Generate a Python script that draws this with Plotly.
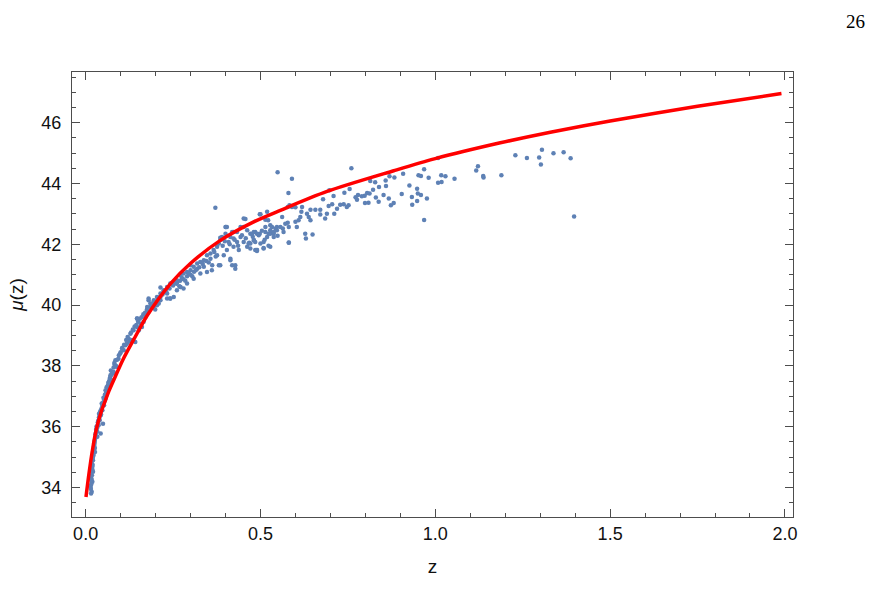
import plotly.graph_objects as go

# ---------------- data ----------------
# model curve mu(z)
curve_z = [0.001, 0.0096, 0.0192, 0.0306, 0.0459, 0.0566, 0.0668, 0.0852, 0.106, 0.14,
           0.1756, 0.2423, 0.2995, 0.3853, 0.4806, 0.557, 0.6905, 0.881, 1.0, 1.186,
           1.329, 1.5, 1.75, 1.99]
curve_mu = [33.69, 34.46, 35.21, 35.92, 36.54, 36.87, 37.18, 37.66, 38.19, 38.92,
            39.65, 40.70, 41.37, 42.13, 42.74, 43.12, 43.74, 44.42, 44.82, 45.34,
            45.69, 46.06, 46.54, 46.96]

# supernova data, low redshift
z_low = [0.0173, 0.0144, 0.0173, 0.0144, 0.0163, 0.0192, 0.0173, 0.0211, 0.0211, 0.0239,
         0.0258, 0.0287, 0.0306, 0.0335, 0.0363, 0.0401, 0.0430, 0.0478, 0.0525, 0.0573,
         0.0621, 0.0382, 0.0459, 0.0497, 0.0430, 0.0335, 0.0268, 0.0192, 0.0211,
         0.015, 0.016, 0.017, 0.018, 0.019, 0.020, 0.021, 0.022, 0.023, 0.024,
         0.025, 0.026, 0.027, 0.028, 0.030, 0.031, 0.032, 0.034, 0.036, 0.038,
         0.040, 0.042, 0.044, 0.046, 0.050, 0.053, 0.055, 0.058, 0.060, 0.063,
         0.067, 0.070, 0.073, 0.076, 0.080, 0.083, 0.090, 0.095, 0.100,
         0.0155, 0.0165, 0.0185, 0.0200, 0.0225, 0.0245, 0.0265, 0.0295, 0.0330, 0.0350,
         0.0370, 0.0390, 0.0415, 0.0440, 0.0480, 0.0510, 0.0540, 0.0570, 0.0600, 0.0650,
         0.0690, 0.0720, 0.0780, 0.0820, 0.0870]
mu_low = [33.86, 34.02, 34.18, 34.35, 34.52, 34.68, 34.84, 35.01, 35.17, 35.34,
          35.50, 35.67, 35.83, 35.99, 36.10, 36.21, 36.38, 36.54, 36.71, 36.93,
          37.15, 36.43, 36.76, 36.10, 35.78, 35.67, 35.17, 34.19, 34.52,
          33.95, 34.10, 34.28, 34.40, 34.60, 34.75, 34.90, 35.05, 35.20, 35.25,
          35.40, 35.55, 35.60, 35.75, 35.90, 36.00, 35.95, 36.05, 36.20, 36.30,
          36.35, 36.45, 36.55, 36.62, 36.80, 36.90, 37.05, 37.10, 37.30, 37.35,
          37.50, 37.62, 37.70, 37.80, 37.95, 38.05, 38.20, 38.35, 38.45,
          33.80, 34.25, 34.55, 34.95, 35.10, 35.45, 35.30, 35.80, 35.85, 36.15,
          36.05, 36.25, 36.50, 36.40, 36.70, 36.95, 36.85, 37.20, 37.05, 37.45,
          37.40, 37.85, 37.75, 38.10, 38.00]

# intermediate redshift
z_mid = [0.0563, 0.061, 0.066, 0.069, 0.075, 0.080, 0.088, 0.085, 0.094, 0.099,
         0.109, 0.114, 0.118, 0.123, 0.128, 0.133, 0.142, 0.147, 0.157, 0.152,
         0.147, 0.166, 0.171, 0.180, 0.185, 0.180, 0.199, 0.209, 0.214, 0.223,
         0.233, 0.161, 0.137, 0.104, 0.071,
         0.105, 0.110, 0.116, 0.120, 0.125, 0.130, 0.135, 0.140, 0.145, 0.150,
         0.155, 0.160, 0.165, 0.170, 0.175, 0.190, 0.200, 0.210, 0.220, 0.230,
         0.240, 0.250, 0.260, 0.270, 0.280, 0.290, 0.300, 0.310,
         0.176, 0.185, 0.195, 0.204, 0.214, 0.223, 0.233, 0.242, 0.252, 0.261,
         0.271, 0.280, 0.290, 0.300, 0.309, 0.319, 0.328, 0.338, 0.347, 0.357,
         0.366, 0.376, 0.385, 0.390, 0.409, 0.443, 0.471, 0.452, 0.462, 0.490,
         0.509, 0.519, 0.438, 0.423, 0.404, 0.400, 0.419, 0.433,
         0.385, 0.414, 0.428, 0.419, 0.362, 0.347, 0.328, 0.309, 0.290, 0.280,
         0.271, 0.261, 0.252, 0.242, 0.233, 0.214, 0.204, 0.195, 0.300, 0.319,
         0.338, 0.357, 0.376, 0.395, 0.471, 0.481, 0.500, 0.514, 0.528, 0.528,
         0.485, 0.495, 0.462, 0.452, 0.423, 0.414,
         0.371, 0.452, 0.498, 0.522, 0.214, 0.180, 0.147, 0.404, 0.400, 0.423,
         0.433, 0.381, 0.414, 0.428, 0.361, 0.381, 0.242, 0.271, 0.481, 0.509,
         0.528, 0.538, 0.547, 0.514, 0.485, 0.466, 0.457, 0.401, 0.385, 0.443,
         0.490, 0.581,
         0.262, 0.268, 0.275, 0.285, 0.295, 0.305, 0.315, 0.325, 0.335, 0.345,
         0.352, 0.368, 0.372, 0.392, 0.398, 0.412, 0.426, 0.436, 0.447, 0.458,
         0.468, 0.478, 0.504, 0.512]
mu_mid = [36.98, 37.20, 37.42, 37.58, 37.53, 37.80, 37.97, 38.19, 38.24, 38.41,
          38.52, 38.68, 38.74, 38.90, 39.06, 38.85, 38.79, 39.28, 39.39, 39.17,
          39.56, 39.45, 39.61, 39.78, 39.94, 40.16, 39.86, 40.05, 40.27, 40.44,
          40.22, 39.28, 39.17, 38.57, 37.69,
          38.60, 38.70, 38.85, 38.95, 38.80, 39.10, 39.20, 39.30, 39.35, 39.45,
          39.55, 39.60, 39.70, 39.75, 39.85, 40.05, 40.10, 40.25, 40.35, 40.45,
          40.55, 40.65, 40.70, 40.80, 40.85, 40.95, 41.00, 41.10,
          39.94, 40.05, 40.16, 40.27, 40.38, 40.49, 40.60, 40.71, 40.76, 40.82,
          40.98, 41.04, 41.09, 41.15, 41.26, 41.37, 41.42, 41.48, 41.64, 41.70,
          41.81, 41.92, 42.14, 42.24, 42.08, 42.24, 42.35, 42.08, 41.92, 41.81,
          42.08, 42.24, 41.81, 41.92, 41.81, 42.57, 42.41, 42.41,
          41.31, 41.48, 41.20, 41.31, 41.31, 41.09, 41.04, 40.87, 40.71, 40.55,
          40.60, 40.49, 40.27, 40.22, 40.38, 40.16, 40.00, 39.96, 41.31, 41.20,
          41.26, 41.53, 41.64, 41.64, 41.86, 42.14, 42.03, 42.41, 42.63, 42.35,
          42.41, 42.30, 42.46, 42.57, 42.41, 42.24,
          43.20, 42.85, 42.99, 42.79, 40.58, 40.22, 39.56, 42.57, 42.35, 42.19,
          42.08, 42.03, 41.53, 41.31, 41.15, 41.31, 40.22, 40.60, 42.41, 41.86,
          41.92, 42.35, 42.57, 42.57, 41.81, 42.03, 42.83, 42.57, 42.22, 42.57,
          41.81, 42.05,
          40.75, 40.62, 40.90, 40.80, 41.05, 40.95, 41.15, 41.25, 41.35, 41.45,
          41.40, 41.75, 41.60, 41.95, 42.10, 42.00, 42.15, 41.95, 42.30, 42.20,
          42.05, 42.25, 42.45, 42.15]

# high redshift
z_high = [0.549, 0.590, 0.580, 0.760, 0.697, 0.968, 1.008, 1.122, 1.117, 1.137,
          1.138, 1.189, 1.229, 1.262, 1.297, 1.305, 1.302, 1.055, 1.017, 1.029,
          1.018, 1.008, 0.968, 0.976, 0.959, 0.948, 0.950, 0.952, 0.959, 0.981,
          0.908, 0.926, 0.933, 0.934, 0.948, 0.904, 0.883, 0.869, 0.858, 0.859,
          0.867, 0.873, 0.881, 0.852, 0.839, 0.838, 0.830, 0.828, 0.814, 0.812,
          0.822, 0.805, 0.809, 0.799, 0.798, 0.790, 0.776, 0.772, 0.779, 0.755,
          0.740, 0.752, 0.747, 0.728, 0.738, 0.719, 0.709, 0.711, 0.705, 0.695,
          0.690, 0.679, 0.685, 0.671, 0.671, 0.657, 0.649, 0.643, 0.643, 0.638,
          0.633, 0.628, 0.630, 0.619, 0.614, 0.617, 0.609, 0.604, 0.600, 0.590,
          0.583, 0.578, 0.581, 0.578, 0.581, 0.571, 0.564, 0.566, 0.562, 0.557,
          0.547, 0.543, 0.538, 0.533, 0.528, 0.523, 0.519, 0.514, 0.500, 0.498,
          0.490, 0.485, 0.481, 0.476, 0.471, 0.490, 0.509, 0.523, 0.538, 0.549,
          0.593, 0.600, 1.338, 1.367, 1.387, 1.397]
mu_high = [44.37, 44.16, 43.69, 44.50, 43.78, 44.47, 44.84, 44.57, 44.43, 44.25,
           44.20, 44.27, 44.93, 44.84, 44.86, 45.11, 44.63, 44.16, 44.27, 44.24,
           44.05, 44.03, 42.80, 43.51, 43.62, 43.83, 43.67, 44.27, 44.25, 44.19,
           44.32, 43.94, 43.56, 43.30, 43.43, 43.66, 44.20, 44.24, 44.10, 43.92,
           43.51, 43.29, 43.36, 43.62, 43.89, 43.40, 43.54, 44.04, 44.08, 43.67,
           43.80, 43.69, 43.37, 43.36, 43.60, 43.58, 43.47, 43.55, 43.62, 43.82,
           43.70, 43.29, 43.23, 43.30, 43.32, 43.17, 43.59, 43.01, 43.32, 43.26,
           43.01, 43.48, 42.85, 43.14, 42.98, 43.14, 42.32, 43.14, 42.79, 42.90,
           43.01, 42.35, 42.19, 43.23, 42.90, 43.07, 42.79, 42.57, 42.74, 43.23,
           43.29, 43.23, 42.57, 42.71, 42.06, 42.68, 42.52, 42.41, 42.90, 42.57,
           42.46, 42.52, 42.41, 42.57, 42.46, 42.35, 43.07, 42.81, 42.99, 42.35,
           42.35, 42.08, 42.13, 42.35, 42.03, 41.78, 41.88, 41.95, 42.24, 42.28,
           43.25, 43.22, 45.00, 45.03, 44.83, 42.92]

x_tickvals = [0.0, 0.5, 1.0, 1.5, 2.0]
y_tickvals = [34, 36, 38, 40, 42, 44, 46]

# ---------------- figure ----------------
BLUE = "#5E81B5"
FRAME = "#4d4d4d"
SANS = "Liberation Sans"
SERIF = "Liberation Serif"

fig = go.Figure()
fig.add_trace(go.Scatter(
    x=z_low + z_mid + z_high, y=mu_low + mu_mid + mu_high,
    mode="markers", marker=dict(color=BLUE, size=4.5, line=dict(width=0)),
    hoverinfo="skip", showlegend=False))
fig.add_trace(go.Scatter(
    x=curve_z, y=curve_mu, mode="lines",
    line=dict(color="#ff0000", width=3.5, shape="spline", smoothing=0.8),
    showlegend=False))

axis_common = dict(
    showgrid=False, zeroline=False, showline=True, linecolor=FRAME, linewidth=1,
    mirror="allticks", ticks="inside", ticklen=8, tickwidth=1, tickcolor=FRAME,
    tickfont=dict(family=SANS, size=18, color="#111111"),
)

fig.update_xaxes(
    range=[-0.039, 2.023], tickvals=x_tickvals, tickformat=".1f",
    minor=dict(dtick=0.1, tick0=0, ticks="inside", ticklen=4, tickcolor=FRAME, tickwidth=1),
    title=dict(text="z", font=dict(family=SANS, size=19, color="#111111"), standoff=17),
    ticklabelstandoff=0,
    **axis_common)
fig.update_yaxes(
    range=[33.03, 47.67], tickvals=y_tickvals,
    minor=dict(dtick=0.5, tick0=0, ticks="inside", ticklen=4, tickcolor=FRAME, tickwidth=1),
    title=dict(text="<i>μ</i>(z)", font=dict(family=SANS, size=19, color="#111111"), standoff=12),
    ticklabelstandoff=6,
    **axis_common)

fig.add_annotation(text="26", xref="paper", yref="paper", x=(855 - 72) / 721, y=1 + (72 - 22) / 445,
                   xanchor="center", yanchor="middle",
                   showarrow=False, font=dict(family=SERIF, size=19, color="#000000"))

fig.update_layout(
    width=873, height=608, margin=dict(l=72, r=80, t=72, b=91),
    paper_bgcolor="white", plot_bgcolor="white",
    font=dict(family=SANS),
)

fig.write_html("out.html")
